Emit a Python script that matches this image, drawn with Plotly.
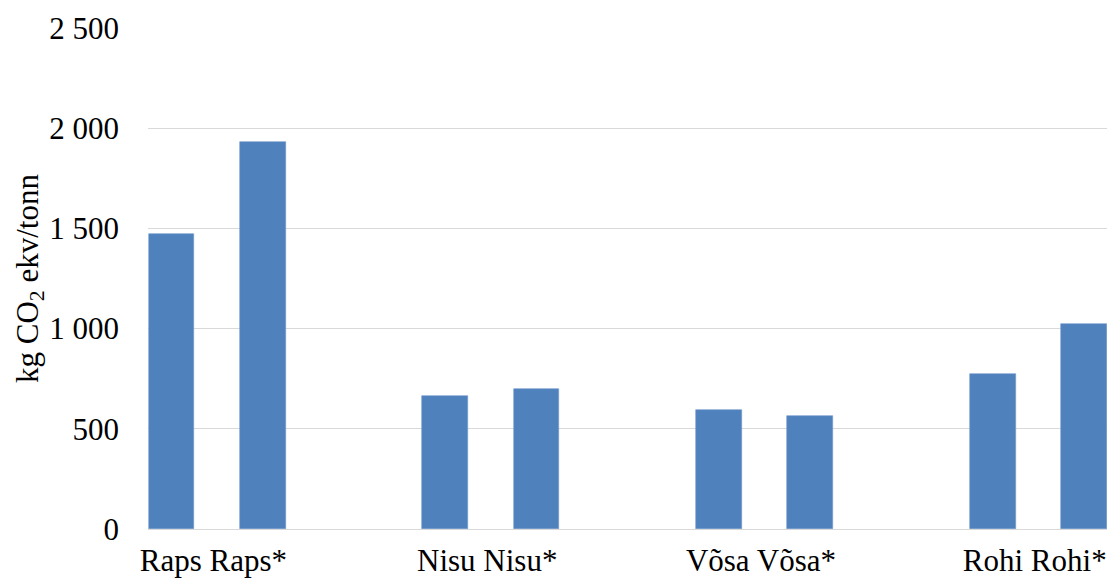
import plotly.graph_objects as go

# Emissions per tonne of product, base case vs. alternative (*)
crops = ["Raps", "Nisu", "Võsa", "Rohi"]
base_values = [1471, 665, 593, 773]
star_values = [1932, 700, 565, 1023]
y_ticks = [0, 500, 1000, 1500, 2000, 2500]

BAR_COLOR = "#4F81BD"
GRID_COLOR = "#D9D9D9"
FONT = "Liberation Serif, Times New Roman, serif"

# Each crop takes three slots: base bar, starred bar, empty gap
xs, ys, names = [], [], []
for g, crop in enumerate(crops):
    xs += [3 * g, 3 * g + 1]
    ys += [base_values[g], star_values[g]]
    names += [crop, crop + "*"]

fig = go.Figure(
    go.Bar(
        x=xs,
        y=ys,
        width=0.5,
        marker=dict(color=BAR_COLOR, line=dict(color="#6F98CB", width=0.6)),
        hovertext=names,
        hoverinfo="text+y",
    )
)

fig.update_layout(
    width=1116,
    height=581,
    margin=dict(l=148, r=9, t=28, b=52),
    paper_bgcolor="white",
    plot_bgcolor="white",
    showlegend=False,
    separators=", ",
    font=dict(family=FONT, size=31, color="#000000"),
    bargap=0,
)

fig.update_xaxes(
    range=[-0.2575, 10.252],
    tickmode="array",
    tickvals=[3 * g + 0.46 for g in range(len(crops))],
    ticktext=[f"{c} {c}*" for c in crops],
    showgrid=False,
    zeroline=False,
    showline=False,
    ticks="",
    ticklabelstandoff=10,
    tickfont=dict(family=FONT, size=31),
    automargin=False,
)

fig.update_yaxes(
    range=[0, 2500],
    tickmode="array",
    tickvals=y_ticks,
    separatethousands=True,
    tickformat=",d",
    showgrid=True,
    gridcolor=GRID_COLOR,
    gridwidth=1,
    zeroline=True,
    zerolinecolor=GRID_COLOR,
    zerolinewidth=1,
    showline=False,
    ticks="",
    ticklabelstandoff=28,
    tickfont=dict(family=FONT, size=31),
    title=dict(
        text="kg CO<sub>2</sub> ekv/tonn",
        font=dict(family=FONT, size=31),
        standoff=0,
    ),
    automargin=False,
)

fig.write_html("out.html")
